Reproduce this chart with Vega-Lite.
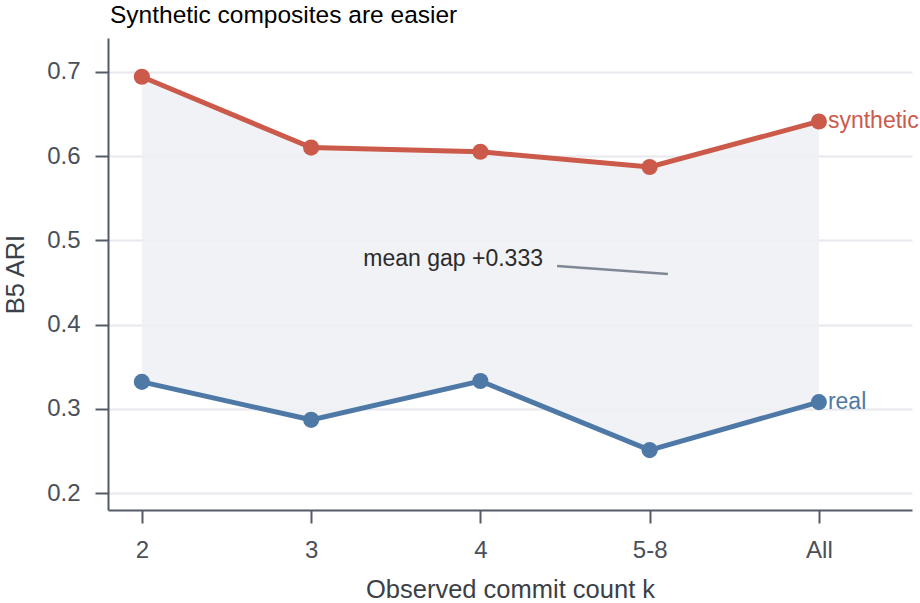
{
  "$schema": "https://vega.github.io/schema/vega-lite/v6.json",
  "autosize": "none",
  "width": 804,
  "height": 472,
  "padding": {"left": 108, "top": 38, "right": 8, "bottom": 93},
  "background": "white",
  "config": {
    "font": "Liberation Sans",
    "view": {"stroke": null},
    "axis": {
      "domainColor": "#555b66", "domainWidth": 2, "tickColor": "#555b66", "tickWidth": 2, "tickSize": 13,
      "labelColor": "#4a505a", "labelFontSize": 24, "titleFontSize": 25.5, "titleColor": "#3a3f48", "titleFontWeight": "normal",
      "gridColor": "#e8e8ee", "gridWidth": 2
    }
  },
  "title": {"text": "Synthetic composites are easier", "anchor": "start", "frame": "group", "fontSize": 24.5, "fontWeight": "normal", "color": "#000000", "offset": 10, "dx": 2},
  "datasets": {
    "scores": [
      {"k": "2", "idx": 0, "synthetic": 0.694, "real": 0.332},
      {"k": "3", "idx": 1, "synthetic": 0.610, "real": 0.287},
      {"k": "4", "idx": 2, "synthetic": 0.605, "real": 0.333},
      {"k": "5-8", "idx": 3, "synthetic": 0.587, "real": 0.251},
      {"k": "All", "idx": 4, "synthetic": 0.641, "real": 0.308}
    ],
    "labels": [
      {"idx": 4, "value": 0.641, "series": "synthetic"},
      {"idx": 4, "value": 0.308, "series": "real"}
    ],
    "note": [{"x": 2.37, "y": 0.478, "x2": 2.453, "y1": 0.4696, "x3": 3.108, "y3": 0.4601, "text": "mean gap +0.333"}]
  },
  "layer": [
    {
      "data": {"name": "scores"},
      "mark": {"type": "area", "color": "#eef0f5", "opacity": 0.85},
      "encoding": {
        "x": {"field": "idx", "type": "quantitative", "scale": {"domain": [-0.2, 4.55], "nice": false, "zero": false},
          "axis": {"values": [0, 1, 2, 3, 4], "labelExpr": "['2','3','4','5-8','All'][datum.value]", "grid": false, "title": "Observed commit count k", "titlePadding": 15, "labelPadding": 15}},
        "y": {"field": "synthetic", "type": "quantitative", "scale": {"domain": [0.18, 0.74], "nice": false, "zero": false},
          "axis": {"values": [0.2, 0.3, 0.4, 0.5, 0.6, 0.7], "format": ".1f", "title": "B5 ARI", "titlePadding": 18, "labelPadding": 15}},
        "y2": {"field": "real"}
      }
    },
    {
      "data": {"name": "scores"},
      "transform": [{"fold": ["synthetic", "real"], "as": ["series", "value"]}],
      "mark": {"type": "line", "strokeWidth": 5, "point": {"size": 260, "filled": true, "opacity": 1}},
      "encoding": {
        "x": {"field": "idx", "type": "quantitative"},
        "y": {"field": "value", "type": "quantitative"},
        "color": {"field": "series", "type": "nominal", "scale": {"domain": ["synthetic", "real"], "range": ["#cc5a4b", "#4e79a7"]}, "legend": null}
      }
    },
    {
      "data": {"name": "labels"},
      "mark": {"type": "text", "align": "left", "baseline": "middle", "dx": 9, "fontSize": 23},
      "encoding": {
        "x": {"field": "idx", "type": "quantitative"},
        "y": {"field": "value", "type": "quantitative"},
        "text": {"field": "series"},
        "color": {"field": "series", "type": "nominal", "legend": null}
      }
    },
    {
      "data": {"name": "note"},
      "mark": {"type": "text", "align": "right", "baseline": "middle", "fontSize": 23, "color": "#2b2b2b"},
      "encoding": {
        "x": {"field": "x", "type": "quantitative"},
        "y": {"field": "y", "type": "quantitative"},
        "text": {"field": "text"}
      }
    },
    {
      "data": {"name": "note"},
      "mark": {"type": "rule", "color": "#808896", "strokeWidth": 2.5},
      "encoding": {
        "x": {"field": "x2", "type": "quantitative"},
        "y": {"field": "y1", "type": "quantitative"},
        "x2": {"field": "x3"},
        "y2": {"field": "y3"}
      }
    }
  ]
}
